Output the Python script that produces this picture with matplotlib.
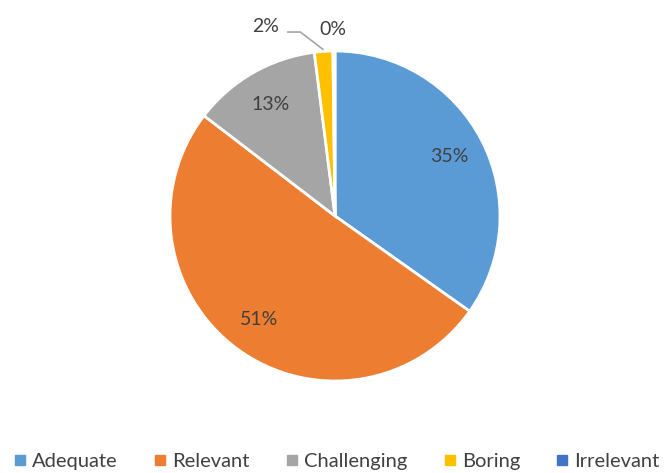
import matplotlib
matplotlib.use("Agg")
import matplotlib.pyplot as plt
import numpy as np

categories = ["Adequate", "Relevant", "Challenging", "Boring", "Irrelevant"]
values = [34.8, 50.6, 12.6, 1.8, 0.2]
colors = ["#5B9BD5", "#ED7D31", "#A5A5A5", "#FFC000", "#4472C4"]
text_color = "#404040"

plt.rcParams['font.family'] = ['Lato', 'DejaVu Sans']

fig = plt.figure(figsize=(6.70, 4.73), dpi=100)
W, H = 670, 473
cx, cy, r = 335, 216, 165
ax = fig.add_axes([(cx - r) / W, 1 - (cy + r) / H, 2 * r / W, 2 * r / H])
ax.set_aspect('equal')
ax.axis('off')

total = sum(values)
pct = [v / total * 100 for v in values]
wedges, texts = ax.pie(values, colors=colors, startangle=90, counterclock=False,
                       radius=1, wedgeprops=dict(edgecolor='white', linewidth=2),
                       frame=False)
ax.set_xlim(-1, 1)
ax.set_ylim(-1, 1)

for i, w in enumerate(wedges):
    ang = np.deg2rad((w.theta1 + w.theta2) / 2)
    lbl = f"{round(pct[i]):.0f}%"
    if pct[i] >= 5:
        d = 0.78
        ax.text(d * np.cos(ang), d * np.sin(ang), lbl, ha='center', va='center',
                fontsize=14, color=text_color)
    elif i == 3:
        ex, ey = 1.01 * np.cos(ang), 1.01 * np.sin(ang)
        tx, ty = -0.42, 1.15
        ax.text(tx, ty, lbl, ha='center', va='center', fontsize=14, color=text_color,
                clip_on=False)
        bx, by = -0.21, 1.115
        ax.plot([tx + 0.13, bx, ex], [by, by, ey], color='#A5A5A5', lw=1.2,
                clip_on=False, solid_capstyle='butt')
    else:
        ax.text(-0.01, 1.13, lbl, ha='center', va='center', fontsize=14, color=text_color,
                clip_on=False)

handles = [plt.Line2D([], [], marker='s', linestyle='', markersize=7,
                      markerfacecolor=c, markeredgecolor=c) for c in colors]
fig.legend(handles, categories, loc='center', bbox_to_anchor=(0.5, 1 - 461 / H),
           ncol=5, frameon=False, fontsize=14.5, labelcolor=text_color,
           handletextpad=0.1, columnspacing=1.6, handlelength=1.0)

fig.savefig("out.png", dpi=100)
